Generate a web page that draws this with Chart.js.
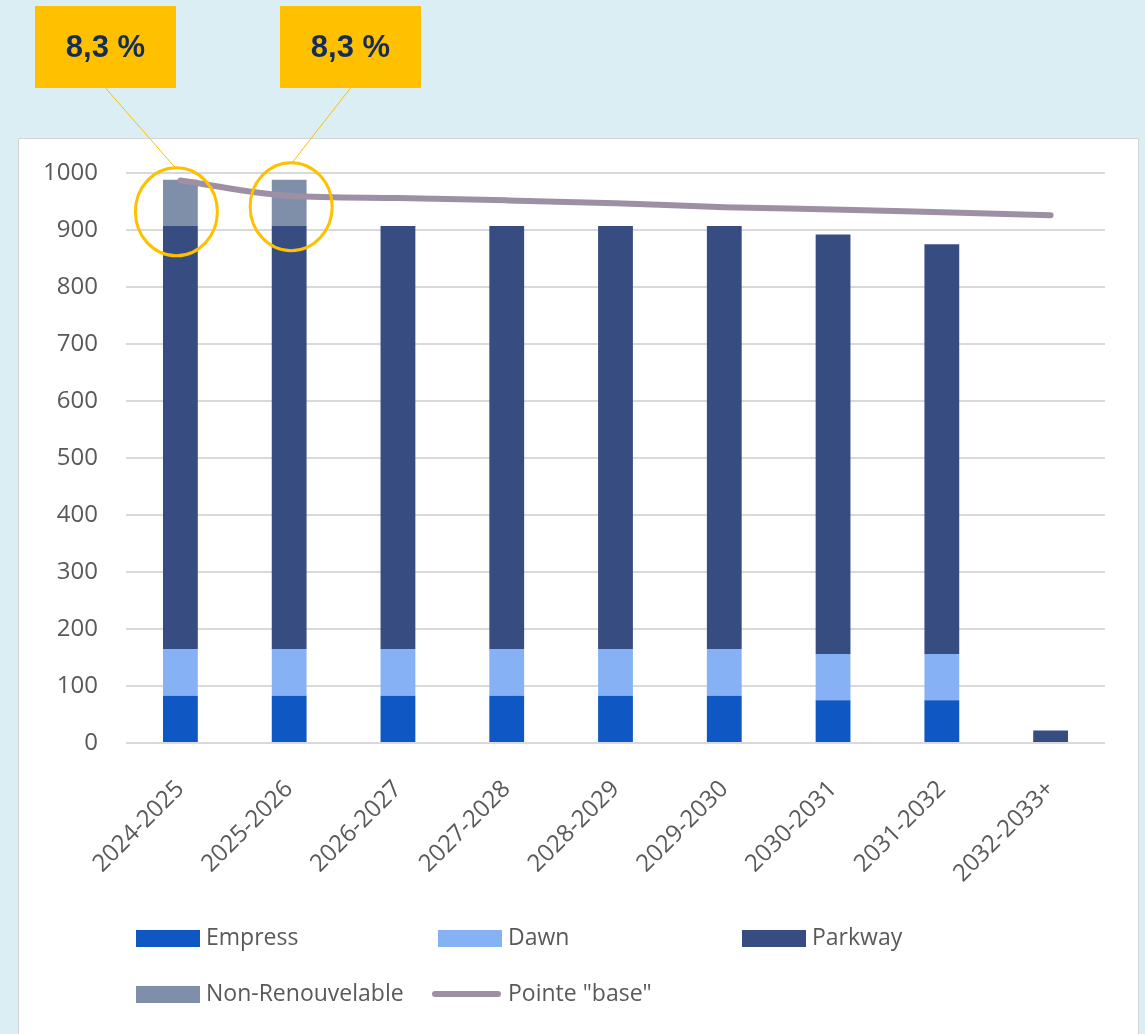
<!DOCTYPE html>
<html>
<head>
<meta charset="utf-8">
<script src="https://cdn.jsdelivr.net/npm/chart.js@4/dist/chart.umd.min.js"></script>
<style>
  html, body { margin: 0; padding: 0; background: #daeef3; }
  #wrap { width: 1145px; height: 1034px; }
</style>
</head>
<body>
<div id="wrap"><canvas id="capacite" width="1145" height="1034"></canvas></div>
<script>
const categories = ['2024-2025', '2025-2026', '2026-2027', '2027-2028', '2028-2029', '2029-2030', '2030-2031', '2031-2032', '2032-2033+'];
const empress = [83, 83, 83, 83, 83, 83, 75, 75, 0];
const dawn = [82, 82, 82, 82, 82, 82, 81, 81, 0];
const parkway = [742, 742, 742, 742, 742, 742, 736, 719, 22];
const nonRenouvelable = [81, 81, 0, 0, 0, 0, 0, 0, 0];
const pointeBase = [987, 960, 956, 952, 947, 940, 936, 931, 926];
const yTicks = [0, 100, 200, 300, 400, 500, 600, 700, 800, 900, 1000];

// bulles jaunes : colonne visée, texte, valeur du centre du cercle
const calloutIndex = [0, 1];
const calloutText = ['8,3 %', '8,3 %'];
const calloutValue = [932, 941];

const grisTexte = '#595959';
const police = '"Open Sans", "DejaVu Sans", sans-serif';

const decor = {
  id: 'decor',
  beforeDraw(chart) {
    const c = chart.ctx;
    c.save();
    c.fillStyle = '#daeef3';
    c.fillRect(0, 0, chart.width, chart.height);
    c.fillStyle = '#ffffff';
    c.fillRect(18, 138, 1120, 900);
    c.strokeStyle = '#d4d4d4';
    c.lineWidth = 1;
    c.strokeRect(18.5, 138.5, 1120, 900);
    c.restore();
  },
  afterDraw(chart) {
    const c = chart.ctx;
    const xs = chart.scales.x, ys = chart.scales.y;
    c.save();

    // bulles
    const boxX = [35, 280];
    calloutIndex.forEach(function (idx, i) {
      const cx = xs.getPixelForValue(idx) - (i === 0 ? 4 : -2);
      const cy = ys.getPixelForValue(calloutValue[i]);
      const bx = boxX[i], by = 6, bw = 141, bh = 82;
      c.strokeStyle = '#ffc000';
      c.lineWidth = 1;
      c.beginPath();
      c.moveTo(bx + bw / 2, by + bh);
      c.lineTo(cx + (i === 0 ? -1 : 1), cy - 44);
      c.stroke();
      c.lineWidth = 3;
      c.beginPath();
      c.ellipse(cx, cy, 41, 44, 0, 0, Math.PI * 2);
      c.stroke();
      c.fillStyle = '#ffc000';
      c.fillRect(bx, by, bw, bh);
      c.fillStyle = '#142d54';
      c.font = 'bold 31px "Liberation Sans", Arial, sans-serif';
      c.textAlign = 'center';
      c.textBaseline = 'middle';
      c.fillText(calloutText[i], bx + bw / 2, by + bh / 2 + 1);
    });

    // légende
    const pos = [[136, 938], [438, 938], [742, 938], [136, 994], [432, 994]];
    c.font = '23px ' + police;
    c.textAlign = 'left';
    c.textBaseline = 'middle';
    chart.data.datasets.forEach(function (ds, i) {
      const p = pos[i];
      if (ds.type === 'line') {
        c.strokeStyle = ds.borderColor;
        c.lineWidth = 6;
        c.lineCap = 'round';
        c.beginPath();
        c.moveTo(p[0] + 3, p[1]);
        c.lineTo(p[0] + 66, p[1]);
        c.stroke();
        c.fillStyle = grisTexte;
        c.fillText(ds.label, p[0] + 76, p[1]);
      } else {
        c.fillStyle = ds.backgroundColor;
        c.fillRect(p[0], p[1] - 8, 64, 17);
        c.fillStyle = grisTexte;
        c.fillText(ds.label, p[0] + 70, p[1]);
      }
    });
    c.restore();
  }
};

const context = document.querySelector('#capacite').getContext('2d');
new Chart(context, {
  type: 'bar',
  data: {
    labels: categories,
    datasets: [
      { label: 'Empress', data: empress, backgroundColor: '#0f57c2', stack: 'cap', order: 1 },
      { label: 'Dawn', data: dawn, backgroundColor: '#86b2f5', stack: 'cap', order: 1 },
      { label: 'Parkway', data: parkway, backgroundColor: '#374c80', stack: 'cap', order: 1 },
      { label: 'Non-Renouvelable', data: nonRenouvelable, backgroundColor: '#7f8faa', stack: 'cap', order: 1 },
      {
        type: 'line', label: 'Pointe "base"', data: pointeBase, stack: 'pointe', order: 0,
        borderColor: '#9e90a4', borderWidth: 6, pointRadius: 0, tension: 0.4,
        cubicInterpolationMode: 'monotone', fill: false, borderCapStyle: 'round'
      }
    ]
  },
  options: {
    responsive: false,
    animation: false,
    layout: { padding: { left: 0, top: 173, right: 40, bottom: 0 } },
    datasets: { bar: { categoryPercentage: 1, barPercentage: 0.32 } },
    plugins: { legend: { display: false }, tooltip: { enabled: false } },
    scales: {
      x: {
        stacked: true,
        grid: { display: false },
        border: { display: false },
        ticks: { color: grisTexte, font: { family: police, size: 24 }, minRotation: 45, maxRotation: 45, padding: 24 },
        afterFit(scale) { scale.height = 291; }
      },
      y: {
        stacked: true,
        min: 0,
        max: 1000,
        afterBuildTicks(scale) { scale.ticks = yTicks.map(v => ({ value: v })); },
        grid: { color: '#d9d9d9', lineWidth: 2, drawTicks: false },
        border: { display: false },
        ticks: { color: grisTexte, font: { family: police, size: 24 }, padding: 28, callback: v => String(v) },
        afterFit(scale) { scale.width = 126; }
      }
    }
  },
  plugins: [decor]
});
</script>
</body>
</html>
